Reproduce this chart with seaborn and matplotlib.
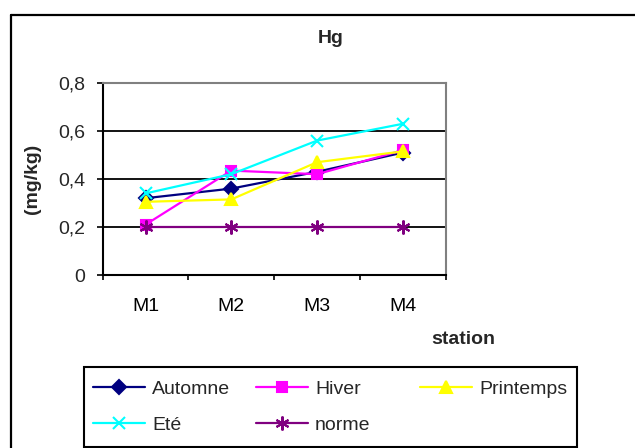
import matplotlib
matplotlib.use("Agg")
import matplotlib.pyplot as plt
from matplotlib.lines import Line2D
from matplotlib.patches import Rectangle
import seaborn as sns
import pandas as pd

# Mercury concentration (mg/kg) per station and season, with the reference norm
stations = ["M1", "M2", "M3", "M4"]
automne = [0.32, 0.36, 0.43, 0.51]
hiver = [0.21, 0.435, 0.42, 0.52]
printemps = [0.305, 0.315, 0.47, 0.515]
ete = [0.34, 0.42, 0.56, 0.63]
norme = [0.2, 0.2, 0.2, 0.2]

series_names = ["Automne", "Hiver", "Printemps", "Eté", "norme"]
series_values = [automne, hiver, printemps, ete, norme]

y_ticks = [0, 0.2, 0.4, 0.6, 0.8]
y_tick_labels = ["0", "0,2", "0,4", "0,6", "0,8"]

colors = {"Automne": "#000080", "Hiver": "#FF00FF", "Printemps": "#FFFF00",
          "Eté": "#00FFFF", "norme": "#800080"}
markers = {"Automne": "D", "Hiver": "s", "Printemps": "^", "Eté": "x", "norme": (6, 2, 0)}
msizes = {"Automne": 7, "Hiver": 7.5, "Printemps": 8.5, "Eté": 8.5, "norme": 10}

df = pd.DataFrame({
    "station": stations * len(series_names),
    "Hg": [v for vals in series_values for v in vals],
    "saison": [n for n in series_names for _ in stations],
})

sns.set_theme(style="white")
plt.rcParams["font.family"] = ["Liberation Sans", "DejaVu Sans"]
FS = 14

W, H = 635, 448
fig = plt.figure(figsize=(W / 100, H / 100), dpi=100)
ax = fig.add_axes([102.7 / W, 1 - 275 / H, 343 / W, 192 / H])

for name in series_names:
    sub = df[df["saison"] == name]
    c = colors[name]
    sns.lineplot(data=sub, x="station", y="Hg", ax=ax, color=c, lw=1.6,
                 marker=markers[name], markersize=msizes[name],
                 markeredgecolor=c, markerfacecolor=c, markeredgewidth=1.5,
                 legend=False, clip_on=False)

ax.set_xlim(-0.5, 3.5)
ax.set_ylim(0, 0.8)
ax.set_yticks(y_ticks)
ax.set_yticklabels(y_tick_labels, fontsize=FS)
ax.set_xticks(range(len(stations)))
ax.set_xticklabels(stations, fontsize=FS)
ax.set_xticks([-0.5, 0.5, 1.5, 2.5, 3.5], minor=True)
ax.tick_params(axis="x", which="major", length=0, pad=16.5, colors="black")
ax.tick_params(axis="x", which="minor", length=3.8, width=1.2, color="black",
               direction="out", bottom=True)
ax.tick_params(axis="y", which="major", length=4.3, width=1.2, color="black",
               direction="out", left=True, pad=8.4)

# horizontal gridlines
for yv in [0.2, 0.4, 0.6]:
    ax.axhline(yv, color="black", lw=1.3, zorder=0.5)

for side in ["left", "bottom"]:
    ax.spines[side].set_color("black")
    ax.spines[side].set_linewidth(1.5)
for side in ["top", "right"]:
    ax.spines[side].set_color("#808080")
    ax.spines[side].set_linewidth(1.5)

ax.set_title("Hg", fontsize=FS, fontweight="bold", x=(331 - 102.7) / 343,
             y=(275 - 43.4) / 192, pad=0)
ax.set_xlabel("station", fontsize=FS, fontweight="bold", va="center")
ax.xaxis.set_label_coords((463 - 102.7) / 343, (275 - 339) / 192)
ax.set_ylabel("(mg/kg)", fontsize=FS, fontweight="bold", va="center")
ax.yaxis.set_label_coords((32 - 102.7) / 343, 0.5)

# legend: three columns, row-wise order
def handle(name):
    c = colors[name]
    return Line2D([], [], color=c, lw=1.6, marker=markers[name],
                  markersize=msizes[name], markeredgecolor=c,
                  markerfacecolor=c, markeredgewidth=1.5)

columns = [(["Automne", "Eté"], 93.3), (["Hiver", "norme"], 256), (["Printemps"], 420)]
for names, x0 in columns:
    fig.legend([handle(n) for n in names], names, loc="upper left",
               bbox_to_anchor=(x0 / W, 1 - 380 / H), frameon=False,
               fontsize=FS, borderpad=0, borderaxespad=0, handlelength=2.68,
               handletextpad=0.36, labelspacing=0.97)

fig.add_artist(Rectangle((84 / W, 1 - 447 / H), (577 - 84) / W, 80 / H,
                         transform=fig.transFigure, fill=False,
                         edgecolor="black", lw=1.5))

# chart-area border
fig.add_artist(Line2D([11 / W, 11 / W], [0, 1 - 15 / H], transform=fig.transFigure,
                      color="black", lw=1.6))
fig.add_artist(Line2D([11 / W, 1], [1 - 15 / H, 1 - 15 / H], transform=fig.transFigure,
                      color="black", lw=1.6))

fig.savefig("out.png", dpi=100)
